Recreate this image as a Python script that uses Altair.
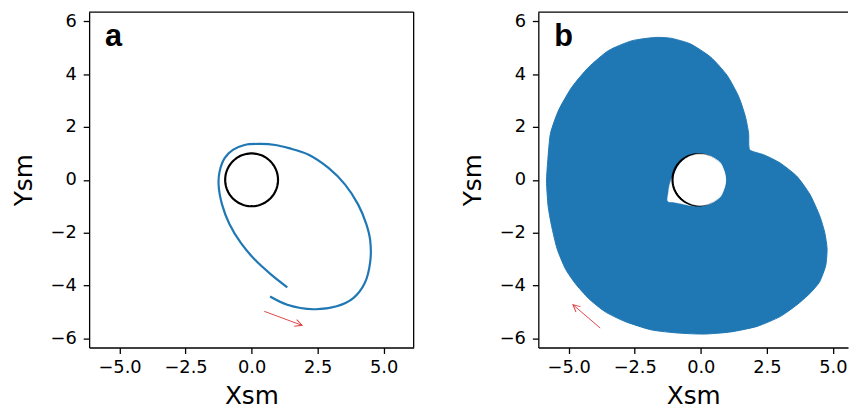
import altair as alt
import numpy as np
import pandas as pd

BLUE = "#1f77b4"
RED = "#d62728"

# ---------------- data ----------------
# panel a: trajectory (drawn in order, from the inner end)
orbit_x = [1.35, 0.73, 0.12, -0.40, -0.84, -1.12, -1.25, -1.21, -1.02, -0.71, -0.27, 0.35, 0.90,
           1.41, 2.16, 2.91, 3.54, 4.03, 4.34, 4.49, 4.49, 4.28, 3.85, 3.22, 2.35, 1.35, 0.70]
orbit_y = [-4.07, -3.58, -3.02, -2.40, -1.67, -0.93, -0.18, 0.32, 0.82, 1.13, 1.32, 1.36, 1.32,
           1.20, 0.95, 0.45, -0.18, -0.93, -1.67, -2.30, -3.11, -3.92, -4.48, -4.79, -4.90, -4.73, -4.42]

# panel b: outline of the swept region (clockwise from the left edge)
blob_x = [-5.84, -5.79, -5.69, -5.38, -4.88, -4.25, -3.50, -2.63, -1.75, -1.13, -0.38, 0.38,
          1.00, 1.44, 1.69, 1.81, 1.85, 2.38, 3.00, 3.63, 4.13, 4.50, 4.69, 4.78, 4.73, 4.50,
          4.13, 3.63, 3.00, 2.13, 1.13, 0.13, -0.88, -1.88, -2.88, -3.63, -4.25, -4.75, -5.13,
          -5.44, -5.65, -5.78]
blob_y = [-0.05, 0.76, 1.76, 2.64, 3.51, 4.26, 4.89, 5.26, 5.39, 5.36, 5.14, 4.64,
          3.95, 3.14, 2.39, 1.76, 1.14, 0.95, 0.64, 0.14, -0.55, -1.36, -1.99, -2.61, -3.24, -3.86,
          -4.30, -4.74, -5.18, -5.55, -5.76, -5.84, -5.80, -5.68, -5.36, -4.99, -4.49, -3.93, -3.36,
          -2.61, -1.74, -0.99]

# panel b: uncovered hole around the body (outline, clockwise)
hole_x = [-1.25, -1.22, -1.18, -1.10, -1.00, -0.85, -0.60, -0.30, 0.00, 0.30, 0.60, 0.80, 0.94,
          0.80, 0.60, 0.30, 0.00, -0.30, -0.55, -0.80, -1.05]
hole_y = [-0.80, -0.45, -0.20, 0.05, 0.22, 0.50, 0.77, 0.93, 0.97, 0.92, 0.76, 0.55, 0.00,
          -0.55, -0.76, -0.92, -0.97, -0.98, -0.94, -0.89, -0.84]

# central body (circle) and red direction arrows
body_center = (0.0, 0.0)
body_radius = 1.0
arrow_a = {"x": [0.48, 1.91], "y": [-4.98, -5.51]}
arrow_b = {"x": [-3.81, -4.84], "y": [-5.61, -4.73]}

x_ticks = [-5.0, -2.5, 0.0, 2.5, 5.0]
y_ticks = [-6, -4, -2, 0, 2, 4, 6]
panel_labels = ["a", "b"]

# ---------------- layout ----------------
PPU = 26.7          # pixels per data unit (same on both axes)
H = 339
WA = 328
WB = 313            # right panel is cut by the page edge in the reference
Y_DOM = [-6.35, 6.35]
XA_DOM = [-6.15, -6.15 + WA / PPU]
XB_DOM = [-6.15, -6.15 + WB / PPU]

X_AXIS = alt.Axis(values=x_ticks, format=".1f", title="Xsm", labelPadding=5, titlePadding=8)
Y_AXIS = alt.Axis(values=y_ticks, format="d", title="Ysm", labelPadding=7, titlePadding=14)


def circle_df(cx, cy, r, n=90):
    t = np.linspace(0, 2 * np.pi, n + 1)
    return pd.DataFrame({"x": cx + r * np.cos(t), "y": cy + r * np.sin(t), "i": np.arange(n + 1)})


def enc(xdom):
    return dict(
        x=alt.X("x:Q", scale=alt.Scale(domain=xdom, nice=False, zero=False), axis=X_AXIS),
        y=alt.Y("y:Q", scale=alt.Scale(domain=Y_DOM, nice=False, zero=False), axis=Y_AXIS),
    )


def arrow_layers(arr, xdom):
    df = pd.DataFrame({"x": arr["x"], "y": arr["y"], "i": [0, 1]})
    dx = arr["x"][1] - arr["x"][0]
    dy = arr["y"][1] - arr["y"][0]
    ang = (np.degrees(np.arctan2(-dy, dx)) + 360) % 360
    shaft = alt.Chart(df).mark_line(color=RED, strokeWidth=1, opacity=0.85).encode(
        order="i:Q", **enc(xdom))
    head = alt.Chart(df.iloc[[1]]).mark_point(
        shape="M-1,-0.5L0,0L-1,0.5", filled=False, color=RED, strokeWidth=1, opacity=0.85,
        size=200, angle=float(ang)).encode(**enc(xdom))
    return [shaft, head]


def frame(width, right=True):
    top = alt.Chart(pd.DataFrame({"k": [0]})).mark_rule(color="black", strokeWidth=1.3).encode(
        x=alt.value(0), x2=alt.value(width), y=alt.value(0))
    layers = [top]
    if right:
        layers.append(alt.Chart(pd.DataFrame({"k": [0]})).mark_rule(color="black", strokeWidth=1.3).encode(
            x=alt.value(width), y=alt.value(0), y2=alt.value(H)))
    return layers


def label(txt):
    return alt.Chart(pd.DataFrame({"t": [txt]})).mark_text(
        font="Liberation Sans", fontWeight="bold", fontSize=31, align="left",
        baseline="alphabetic", color="black").encode(
        x=alt.value(16), y=alt.value(34), text="t:N")


# ---------------- panel a ----------------
orbit_df = pd.DataFrame({"x": orbit_x, "y": orbit_y, "i": range(len(orbit_x))})
body_df = circle_df(body_center[0], body_center[1], body_radius)

a_orbit = alt.Chart(orbit_df).mark_line(color=BLUE, strokeWidth=2.2, interpolate="catmull-rom").encode(
    order="i:Q", **enc(XA_DOM))
a_body = alt.Chart(body_df).mark_line(color="black", strokeWidth=2.2).encode(order="i:Q", **enc(XA_DOM))

panel_a = alt.layer(a_orbit, a_body, *arrow_layers(arrow_a, XA_DOM), *frame(WA), label(panel_labels[0])).properties(
    width=WA, height=H)

# ---------------- panel b ----------------
blob_df = pd.DataFrame({"x": blob_x, "y": blob_y, "i": range(len(blob_x))})
hole_df = pd.DataFrame({"x": hole_x, "y": hole_y, "i": range(len(hole_x))})
ring_df = circle_df(body_center[0] - 0.10, body_center[1], body_radius * 0.97)
disk_df = circle_df(body_center[0] - 0.03, body_center[1], body_radius * 0.97)

b_blob = alt.Chart(blob_df).mark_line(color=BLUE, fill=BLUE, strokeWidth=1, interpolate="cardinal-closed",
                                      tension=0.4).encode(order="i:Q", **enc(XB_DOM))
b_hole = alt.Chart(hole_df).mark_line(color="white", fill="white", strokeWidth=0.5, interpolate="cardinal-closed").encode(
    order="i:Q", **enc(XB_DOM))
b_ring = alt.Chart(ring_df).mark_line(color="black", strokeWidth=2.2).encode(order="i:Q", **enc(XB_DOM))
b_disk = alt.Chart(disk_df).mark_line(color="white", fill="white", strokeWidth=0.5).encode(order="i:Q", **enc(XB_DOM))

panel_b = alt.layer(b_blob, b_hole, b_ring, b_disk, *arrow_layers(arrow_b, XB_DOM), *frame(WB, right=False),
                    label(panel_labels[1])).properties(width=WB, height=H)

chart = alt.hconcat(panel_a, panel_b, spacing=46).properties(
    padding={"left": 3, "top": 1, "right": 0, "bottom": 0}
).configure_view(stroke=None).configure_axis(
    grid=False,
    labelFont="DejaVu Sans", labelFontSize=18, labelColor="black",
    titleFont="DejaVu Sans", titleFontSize=25, titleFontWeight="normal", titleColor="black",
    tickSize=6, tickWidth=1.3, tickColor="black",
    domainColor="black", domainWidth=1.3, labelOverlap=False,
)

chart.save("out.html", embed_options={"renderer": "svg", "actions": False})
